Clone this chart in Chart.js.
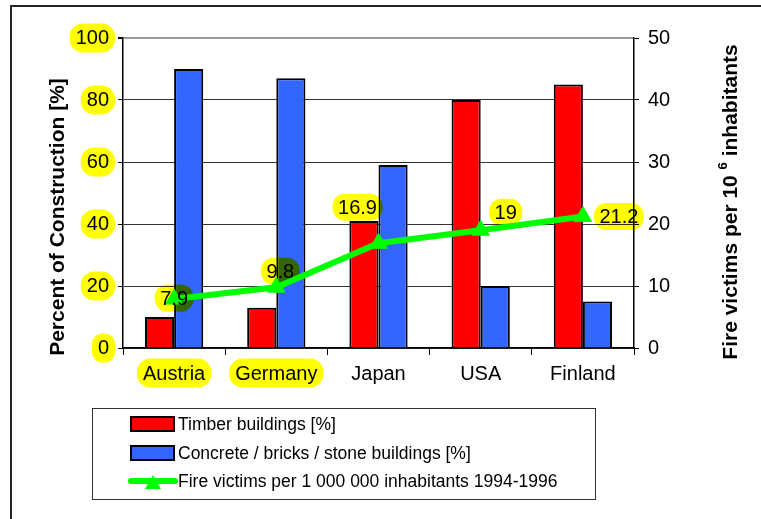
<!DOCTYPE html>
<html><head><meta charset="utf-8">
<script src="https://cdn.jsdelivr.net/npm/chart.js@4"></script>
<style>html,body{margin:0;padding:0;background:#fff}#wrap{width:761px;height:519px;position:relative}</style>
</head><body><div id="wrap"><canvas id="c" width="761" height="519"></canvas></div>
<script>
// ---- data ----
const categories = ['Austria', 'Germany', 'Japan', 'USA', 'Finland'];
const timberPct = [10, 13, 41, 80, 85];
const concretePct = [90, 87, 59, 20, 15];
const fireVictims = [7.9, 9.8, 16.9, 19, 21.2];
const leftTicks = [0, 20, 40, 60, 80, 100];
const rightTicks = [0, 10, 20, 30, 40, 50];
const seriesNames = ['Timber buildings [%]', 'Concrete / bricks / stone buildings [%]', 'Fire victims per 1 000 000 inhabitants 1994-1996'];
const leftTitle = 'Percent of Construction [%]';
const rightTitleParts = ['Fire victims per 10 ', '6', ' inhabitants'];
const highlightedCategories = ['Austria', 'Germany'];

// ---- styles ----
const FONT = "'Liberation Sans', Arial, Helvetica, sans-serif";
const RED = '#FF0000', BLUE = '#3366FF', GREEN = '#00FF00', HL = '#FFFF00';
const labelOffsets = [[0, -1], [4, -16], [-21, -36], [25, -18], [36, 0]];

function pill(ctx, cx, cy, w, h) {
  const r = Math.min(w, h) / 2 * 0.92;
  ctx.beginPath();
  ctx.roundRect(cx - w / 2, cy - h / 2, w, h, r);
  ctx.fill();
}

const decor = {
  id: 'decor',
  beforeDraw(chart) {
    const ctx = chart.ctx;
    ctx.save();
    ctx.strokeStyle = '#222';
    ctx.lineWidth = 2;
    ctx.strokeRect(11, 6, 800, 600);
    // highlights behind left tick labels
    ctx.font = '20px ' + FONT;
    ctx.fillStyle = HL;
    const y = chart.scales.y;
    leftTicks.forEach(v => {
      const tw = ctx.measureText(String(v)).width;
      const right = y.right - 14;
      pill(ctx, right - tw / 2, y.getPixelForValue(v), tw + 12, 29);
    });
    const x = chart.scales.x;
    categories.forEach((c, i) => {
      if (!highlightedCategories.includes(c)) return;
      const tw = ctx.measureText(c).width;
      pill(ctx, x.getPixelForValue(i), 373, tw + 12, 29);
    });
    ctx.restore();
  },
  afterDatasetsDraw(chart) {
    const ctx = chart.ctx;
    const meta = chart.getDatasetMeta(2);
    ctx.save();
    ctx.font = '20px ' + FONT;
    ctx.textAlign = 'center';
    ctx.textBaseline = 'middle';
    fireVictims.forEach((v, i) => {
      const p = meta.data[i];
      const cx = p.x + labelOffsets[i][0], cy = p.y + labelOffsets[i][1];
      const tw = ctx.measureText(String(v)).width;
      ctx.globalCompositeOperation = 'multiply';
      ctx.fillStyle = HL;
      pill(ctx, cx, cy, tw + 11, 27);
      ctx.globalCompositeOperation = 'source-over';
      ctx.fillStyle = '#000';
      ctx.fillText(String(v), cx, cy + 1);
    });
    ctx.restore();
  },
  afterDraw(chart) {
    const ctx = chart.ctx;
    ctx.save();
    // axis titles
    ctx.fillStyle = '#000';
    ctx.textBaseline = 'middle';
    ctx.save();
    ctx.translate(58, 217);
    ctx.rotate(-Math.PI / 2);
    ctx.font = 'bold 21px ' + FONT;
    ctx.textAlign = 'center';
    ctx.fillText(leftTitle, 0, 0);
    ctx.restore();

    ctx.save();
    ctx.translate(731, 202);
    ctx.rotate(-Math.PI / 2);
    ctx.textAlign = 'left';
    const fMain = 'bold 21px ' + FONT, fSup = 'bold 13px ' + FONT;
    ctx.font = fMain;
    const w1 = ctx.measureText(rightTitleParts[0]).width;
    const w3 = ctx.measureText(rightTitleParts[2]).width;
    ctx.font = fSup;
    const w2 = ctx.measureText(rightTitleParts[1]).width;
    let sx = -(w1 + w2 + w3) / 2;
    ctx.font = fMain; ctx.fillText(rightTitleParts[0], sx, 0); sx += w1;
    ctx.font = fSup; ctx.fillText(rightTitleParts[1], sx, -8); sx += w2;
    ctx.font = fMain; ctx.fillText(rightTitleParts[2], sx, 0);
    ctx.restore();

    // legend
    ctx.strokeStyle = '#333';
    ctx.lineWidth = 1;
    ctx.strokeRect(92.5, 408.5, 503, 91);
    const rows = [424, 453, 481];
    ctx.font = '17.5px ' + FONT;
    ctx.textAlign = 'left';
    chart.data.datasets.forEach((ds, i) => {
      const cy = rows[i];
      if (ds.type === 'line') {
        ctx.strokeStyle = ds.borderColor;
        ctx.lineWidth = 6;
        ctx.lineCap = 'round';
        ctx.beginPath(); ctx.moveTo(131, cy); ctx.lineTo(175, cy); ctx.stroke();
        ctx.fillStyle = ds.borderColor;
        ctx.beginPath(); ctx.moveTo(153, cy - 6); ctx.lineTo(161, cy + 8); ctx.lineTo(145, cy + 8); ctx.closePath(); ctx.fill();
      } else {
        ctx.fillStyle = ds.backgroundColor;
        ctx.fillRect(131, cy - 7, 43, 14);
        ctx.strokeStyle = '#000';
        ctx.lineWidth = 2;
        ctx.strokeRect(131, cy - 7, 43, 14);
      }
      ctx.fillStyle = '#000';
      ctx.fillText(ds.label, 178, cy + 1);
    });
    ctx.restore();
  }
};

new Chart(document.getElementById('c'), {
  type: 'bar',
  data: {
    labels: categories,
    datasets: [
      { label: seriesNames[0], data: timberPct, backgroundColor: RED, borderColor: '#000', borderWidth: 2, yAxisID: 'y', order: 1 },
      { label: seriesNames[1], data: concretePct, backgroundColor: BLUE, borderColor: '#000', borderWidth: 2, yAxisID: 'y', order: 1 },
      { type: 'line', label: seriesNames[2], data: fireVictims, borderColor: GREEN, backgroundColor: GREEN, borderWidth: 6,
        pointStyle: 'triangle', pointRadius: 10, pointBackgroundColor: GREEN, pointBorderColor: GREEN, pointBorderWidth: 1,
        tension: 0, yAxisID: 'y1', order: 0 }
    ]
  },
  options: {
    responsive: false,
    devicePixelRatio: 1,
    animation: false,
    layout: { padding: { top: 38, left: 0, right: 0, bottom: 0 } },
    plugins: { legend: { display: false }, tooltip: { enabled: false } },
    datasets: { bar: { categoryPercentage: 0.57, barPercentage: 1 } },
    scales: {
      x: {
        offset: true,
        grid: { offset: true, drawOnChartArea: false, tickLength: 7, tickColor: '#000', tickWidth: 1 },
        border: { color: '#000', width: 1.5 },
        ticks: { color: '#000', font: { family: FONT, size: 20 }, padding: 7, maxRotation: 0 },
        afterFit(s) { s.height = 171; }
      },
      y: {
        position: 'left', min: 0, max: 100,
        afterBuildTicks(s) { s.ticks = leftTicks.map(v => ({ value: v })); },
        grid: { color: c => (c.tick && c.tick.value === 100) ? '#999' : '#333', lineWidth: c => (c.tick && c.tick.value === 100) ? 2 : 1, tickLength: 5, tickColor: '#000' },
        border: { color: '#000', width: 1.5 },
        ticks: { color: '#000', font: { family: FONT, size: 20 }, padding: 9 },
        afterFit(s) { s.width = 123; }
      },
      y1: {
        position: 'right', min: 0, max: 50,
        afterBuildTicks(s) { s.ticks = rightTicks.map(v => ({ value: v })); },
        grid: { drawOnChartArea: false, tickLength: 5, tickColor: '#000' },
        border: { color: '#000', width: 1.5 },
        ticks: { color: '#000', font: { family: FONT, size: 20 }, padding: 9 },
        afterFit(s) { s.width = 127; }
      }
    }
  },
  plugins: [decor]
});
</script></body></html>
